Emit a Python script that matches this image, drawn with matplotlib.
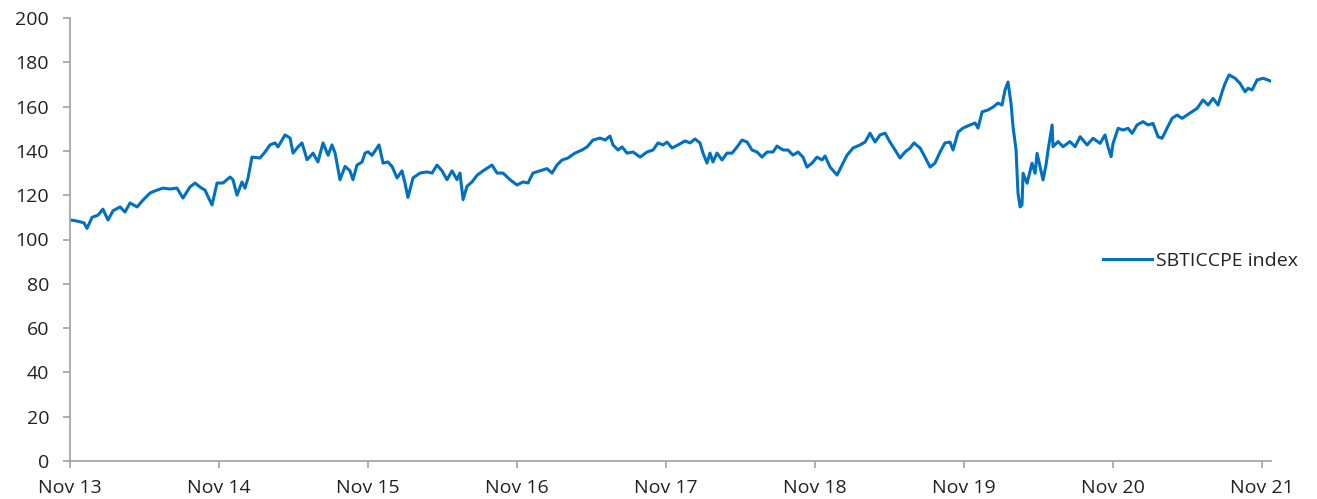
import matplotlib
matplotlib.use("Agg")
import matplotlib.pyplot as plt

# Decimal-year dates (Nov 13 tick = 2013 + 10/12)
dates = [
    2013.833, 2013.867, 2013.900, 2013.927, 2013.947, 2013.981, 2014.021, 2014.054, 2014.088, 2014.122,
    2014.169, 2014.202, 2014.236, 2014.283, 2014.323, 2014.370, 2014.417, 2014.457, 2014.504, 2014.551,
    2014.591, 2014.638, 2014.672, 2014.705, 2014.739, 2014.786, 2014.820, 2014.860, 2014.907, 2014.927,
    2014.954, 2014.987, 2015.007, 2015.028, 2015.054, 2015.108, 2015.142, 2015.175, 2015.209, 2015.229,
    2015.276, 2015.310, 2015.330, 2015.363, 2015.390, 2015.424, 2015.464, 2015.497, 2015.531, 2015.565,
    2015.591, 2015.612, 2015.645, 2015.679, 2015.712, 2015.732, 2015.759, 2015.793, 2015.813, 2015.833,
    2015.860, 2015.880, 2015.907, 2015.934, 2015.967, 2015.994, 2016.028, 2016.061, 2016.081, 2016.101,
    2016.135, 2016.182, 2016.229, 2016.263, 2016.296, 2016.330, 2016.363, 2016.397, 2016.430, 2016.450,
    2016.471, 2016.497, 2016.531, 2016.565, 2016.605, 2016.665, 2016.699, 2016.739, 2016.786, 2016.833,
    2016.873, 2016.907, 2016.940, 2016.987, 2017.034, 2017.068, 2017.101, 2017.135, 2017.175, 2017.222,
    2017.269, 2017.303, 2017.343, 2017.390, 2017.424, 2017.457, 2017.477, 2017.511, 2017.538, 2017.571,
    2017.612, 2017.659, 2017.705, 2017.746, 2017.779, 2017.813, 2017.840, 2017.873, 2017.914, 2017.961,
    2017.994, 2018.028, 2018.061, 2018.081, 2018.108, 2018.128, 2018.148, 2018.175, 2018.209, 2018.242,
    2018.276, 2018.310, 2018.343, 2018.377, 2018.410, 2018.444, 2018.477, 2018.511, 2018.551, 2018.578,
    2018.618, 2018.652, 2018.685, 2018.719, 2018.752, 2018.779, 2018.813, 2018.846, 2018.880, 2018.900,
    2018.934, 2018.981, 2019.014, 2019.048, 2019.088, 2019.135, 2019.169, 2019.202, 2019.236, 2019.269,
    2019.303, 2019.336, 2019.370, 2019.403, 2019.437, 2019.471, 2019.497, 2019.538, 2019.571, 2019.605,
    2019.638, 2019.672, 2019.705, 2019.739, 2019.759, 2019.793, 2019.826, 2019.873, 2019.907, 2019.927,
    2019.954, 2019.994, 2020.028, 2020.061, 2020.088, 2020.108, 2020.128, 2020.148, 2020.162, 2020.182,
    2020.195, 2020.209, 2020.222, 2020.229, 2020.256, 2020.289, 2020.310, 2020.323, 2020.343, 2020.363,
    2020.383, 2020.397, 2020.424, 2020.430, 2020.464, 2020.497, 2020.544, 2020.578, 2020.612, 2020.659,
    2020.699, 2020.746, 2020.779, 2020.799, 2020.820, 2020.833, 2020.867, 2020.900, 2020.934, 2020.961,
    2020.994, 2021.034, 2021.068, 2021.101, 2021.135, 2021.162, 2021.195, 2021.229, 2021.263, 2021.296,
    2021.330, 2021.363, 2021.397, 2021.437, 2021.471, 2021.504, 2021.538, 2021.565, 2021.585, 2021.612,
    2021.652, 2021.685, 2021.719, 2021.739, 2021.766, 2021.799, 2021.840, 2021.873, 2021.893,
]

index_values = [
    108.8, 108.5, 108.0, 107.5, 105.0, 110.0, 111.0, 113.7, 108.8, 113.0,
    114.7, 112.4, 116.5, 114.7, 117.8, 121.0, 122.3, 123.2, 122.8, 123.2,
    118.7, 123.7, 125.5, 123.7, 122.3, 115.6, 125.5, 125.5, 128.2, 126.9,
    120.0, 126.0, 123.2, 127.8, 137.2, 136.8, 139.5, 142.7, 143.6, 141.8,
    147.2, 145.8, 139.0, 141.8, 143.6, 136.0, 139.0, 135.0, 143.6, 138.0,
    142.7, 139.0, 127.0, 133.0, 131.0, 127.0, 133.6, 135.0, 139.0, 139.6,
    138.0, 140.0, 142.7, 134.5, 135.0, 133.0, 127.8, 131.0, 125.5, 119.0,
    127.8, 130.0, 130.5, 130.0, 133.6, 131.0, 127.0, 131.0, 127.0, 130.0,
    118.0, 124.0, 126.0, 129.0, 131.0, 133.6, 130.0, 130.0, 127.0, 124.6,
    126.0, 125.5, 130.0, 131.0, 132.0, 130.0, 133.6, 135.9, 136.8, 139.0,
    140.4, 141.8, 144.9, 145.8, 144.9, 146.7, 142.7, 140.4, 141.8, 139.0,
    139.5, 137.2, 139.5, 140.4, 143.6, 142.7, 144.0, 141.3, 142.7, 144.5,
    143.6, 145.4, 143.6, 139.0, 134.5, 139.0, 135.0, 139.0, 135.9, 139.0,
    139.0, 141.8, 144.9, 144.0, 140.4, 139.5, 137.2, 139.5, 139.5, 142.2,
    140.4, 140.4, 138.1, 139.5, 137.2, 132.7, 134.5, 137.2, 135.9, 137.7,
    132.7, 129.1, 133.6, 138.1, 141.3, 142.7, 144.0, 148.0, 144.0, 147.2,
    148.0, 144.0, 140.4, 136.8, 139.5, 141.3, 143.6, 141.3, 137.2, 132.7,
    134.5, 139.5, 143.6, 144.0, 140.4, 148.5, 150.3, 151.7, 152.6, 150.3,
    157.6, 158.5, 159.8, 161.6, 160.7, 167.5, 171.1, 161.6, 150.8, 140.4,
    121.0, 114.7, 115.6, 129.9, 125.4, 134.4, 129.9, 138.9, 132.9, 126.9,
    133.6, 140.4, 151.7, 141.9, 144.2, 141.9, 144.2, 141.9, 146.4, 142.7,
    145.7, 143.4, 147.2, 141.9, 137.4, 143.4, 150.2, 149.4, 150.2, 147.9,
    151.7, 153.2, 151.7, 152.4, 146.4, 145.7, 150.2, 154.7, 156.2, 154.7,
    156.2, 157.7, 159.2, 163.0, 160.7, 163.7, 160.7, 166.7, 170.5, 174.3,
    172.8, 170.5, 166.7, 168.3, 167.5, 172.0, 172.8, 172.0, 171.5,
]

tick_positions = [2013.833 + k for k in range(9)]
tick_labels = ["Nov 13", "Nov 14", "Nov 15", "Nov 16", "Nov 17",
               "Nov 18", "Nov 19", "Nov 20", "Nov 21"]
y_ticks = list(range(0, 201, 20))
series_name = "SBTICCPE index"

plt.rcParams['font.family'] = ['Open Sans', 'DejaVu Sans']

W, H = 1317, 499
fig = plt.figure(figsize=(W / 100, H / 100), dpi=100)
x0, x1 = 70, 1271
y0, y1 = 461, 18
ax = fig.add_axes([x0 / W, 1 - y0 / H, (x1 - x0) / W, (y0 - y1) / H])

line_color = "#0070C0"
ax.plot(dates, index_values, color=line_color, lw=2.2, label=series_name,
        solid_joinstyle='round')

ax.set_xlim(2013.833, 2021.893)
ax.set_ylim(0, 200)
ax.set_xticks(tick_positions)
ax.set_xticklabels(tick_labels)
ax.set_yticks(y_ticks)

for s in ["top", "right"]:
    ax.spines[s].set_visible(False)
for s in ["left", "bottom"]:
    ax.spines[s].set_color("#a0a0a0")
    ax.spines[s].set_linewidth(1.2)

fs = 14
ax.tick_params(axis='both', colors="#a0a0a0", labelcolor="#222222",
               labelsize=fs, width=1.2, length=5, direction='out')
ax.tick_params(axis='x', pad=8)
ax.tick_params(axis='y', pad=10)

fig.legend(loc='center left', bbox_to_anchor=(1103 / W, 1 - 261 / H),
           frameon=False, fontsize=fs, handlelength=2.5,
           handletextpad=0.2, borderaxespad=0, borderpad=0,
           labelcolor="#222222")

fig.savefig("out.png", dpi=100)
